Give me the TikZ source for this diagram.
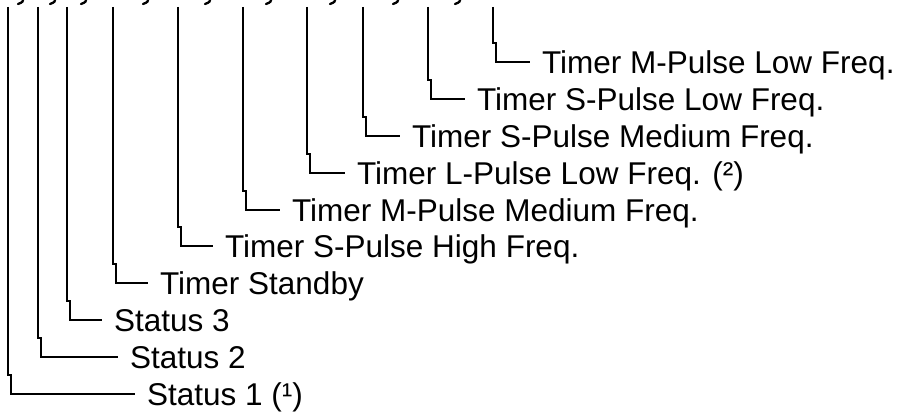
\documentclass[tikz,border=0pt]{standalone}
\usepackage{fontspec}
\setmainfont{Liberation Sans}
\begin{document}
\begin{tikzpicture}[x=1pt, y=-1pt, line width=2.3pt,
  leaf/.style={anchor=west, inner xsep=11pt, inner ysep=0pt,
    text height=22.5pt, text depth=0pt, font=\fontsize{31.5}{36}\selectfont},
  tail/.style={line width=2.3pt, line cap=round}]

\useasboundingbox (0,0) rectangle (900,412);

% Cut-off commas of the line above
\foreach \x in {20,52,83,145,207,268,332,395,457}
  \draw[tail] (\x+3,-2) .. controls (\x+3,2) .. (\x-2,4);

% Labels
\node[leaf] (st1) at (135,394) {Status 1 (¹)};
\node[leaf] (st2) at (118,357) {Status 2};
\node[leaf] (st3) at (102,320) {Status 3};
\node[leaf] (sby) at (148,283) {Timer Standby};
\node[leaf] (shf) at (213,246) {Timer S-Pulse High Freq.};
\node[leaf] (mmf) at (280,210) {Timer M-Pulse Medium Freq.};
\node[leaf] (llf) at (345,173) {Timer L-Pulse Low Freq. (²)};
\node[leaf] (smf) at (400,136) {Timer S-Pulse Medium Freq.};
\node[leaf] (slf) at (465,99) {Timer S-Pulse Low Freq.};
\node[leaf] (mlf) at (530,62) {Timer M-Pulse Low Freq.};

% Tops of the branches
\coordinate (top1) at (8,7);
\coordinate (top2) at (38,7);
\coordinate (top3) at (67,7);
\coordinate (top4) at (113,7);
\coordinate (top5) at (178,7);
\coordinate (top6) at (243,7);
\coordinate (top7) at (307,7);
\coordinate (top8) at (363,7);
\coordinate (top9) at (428,7);
\coordinate (top10) at (493,7);

% Branches, each with its small jog
\draw (top1) -- ++(0,368) -- ++(3,0) |- (st1.west);
\draw (top2) -- ++(0,331) -- ++(3,0) |- (st2.west);
\draw (top3) -- ++(0,294) -- ++(3,0) |- (st3.west);
\draw (top4) -- ++(0,257) -- ++(3,0) |- (sby.west);
\draw (top5) -- ++(0,220) -- ++(3,0) |- (shf.west);
\draw (top6) -- ++(0,184) -- ++(3,0) |- (mmf.west);
\draw (top7) -- ++(0,147) -- ++(3,0) |- (llf.west);
\draw (top8) -- ++(0,110) -- ++(3,0) |- (smf.west);
\draw (top9) -- ++(0,73) -- ++(3,0) |- (slf.west);
\draw (top10) -- ++(0,36) -- ++(3,0) |- (mlf.west);

\end{tikzpicture}
\end{document}
